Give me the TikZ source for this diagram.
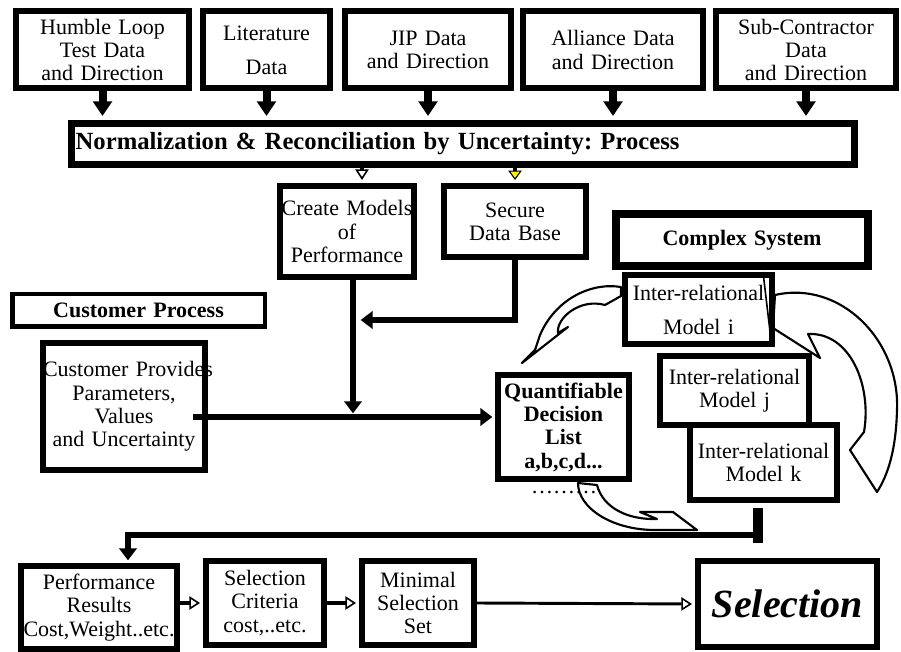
\documentclass[tikz,border=0pt]{standalone}
\usepackage{fontspec}
\setmainfont{Liberation Serif}
\usetikzlibrary{arrows.meta}

\newcommand\diagfont{\fontsize{16.5}{17.5}\selectfont\frenchspacing}

\begin{document}
\begin{tikzpicture}
[x = 0.75pt, y = -0.75pt, line join = miter,
every node/.style = {font = \diagfont},
box/.style = {draw, line width = 4.5pt, fill = white, inner sep = 0pt, align = center},
heavy box/.style = {box, line width = 6pt},
head/.style = {line width = 4.5pt, shorten >= 2pt, -{Triangle[width = 13pt, length = 9pt]}},
feed/.style = {line width = 6pt, shorten >= 3pt, -{Triangle[width = 14pt, length = 11pt]}},
open head/.style = {line width = 3.5pt, shorten >= 2.25pt, -{Triangle[open, line width = 1.2pt, width = 10pt, length = 8pt]}},
curvy/.style = {draw, line width = 1.6pt, fill = white, line join = round}]

\colorlet{tipcolor}{yellow}
\useasboundingbox (0, 0) rectangle (901, 652);

% curved block arrows round the complex system
\draw[curvy] (621, 287) .. controls (590, 282) and (555, 300) .. (540, 335) -- (535, 350) -- (522, 363) -- (568, 327) -- (558, 333) .. controls (556, 318) and (580, 298) .. (605, 305) -- (621, 296) -- cycle;
\draw[curvy] (578, 483) .. controls (578, 508) and (612, 530) .. (655, 530) -- (697, 530) -- (673, 512) -- (640, 512) -- (657, 519) .. controls (628, 520) and (603, 508) .. (597, 485) -- cycle;
\draw[curvy] (775, 295) .. controls (840, 280) and (900, 340) .. (897, 410) .. controls (896, 450) and (888, 475) .. (877, 492) -- (850, 450) -- (864, 432) .. controls (872, 385) and (850, 332) .. (808, 334) -- (820, 358) -- (773, 328) -- cycle;

% data sources
\foreach \name/\cx/\boxw/\txt in {hum/102.5/129.75pt/{Humble Loop\\Test Data\\and Direction}, lit/266.5/95.25pt/{Literature\\[8pt]Data}, jip/428/124.5pt/{JIP Data\\and Direction}, all/613/135pt/{Alliance Data\\and Direction}, sub/806/135pt/{Sub-Contractor\\Data\\and Direction}}
  \node[box, text width = \boxw, minimum height = 57.75pt] (\name) at (\cx, 50) {\txt};

\node[box, line width = 5.25pt, text width = 581pt, inner xsep = 3pt, minimum height = 30.75pt, align = left, font = \fontsize{18.5}{20}\selectfont\bfseries\frenchspacing] (norm) at (463, 144) {Normalization \& Reconciliation by Uncertainty: Process};

\foreach \name in {hum, lit, jip, all, sub}
  \draw[feed] (\name.south) -- (\name.south |- norm.north);

\node[box, text width = 100.5pt, minimum height = 68.25pt] (cre) at (347, 231.5) {\mbox{Create Models}\\of\\Performance};
\node[box, text width = 106.5pt, minimum height = 53.25pt] (sec) at (515, 221.5) {Secure\\Data Base};

\draw[open head, line width = 2.5pt] ([xshift = 11.25pt]cre.north |- norm.south) -- ([xshift = 11.25pt]cre.north);
\draw[line width = 2.5pt, shorten >= 2.25pt, -{Triangle[fill = tipcolor, line width = 0.8pt, width = 10pt, length = 7pt]}] (sec.north |- norm.south) -- (sec.north);

% customer side
\node[box, line width = 3.4pt, text width = 189.4pt, minimum height = 24.4pt, font = \diagfont\bfseries] (cpr) at (138.5, 310.5) {Customer Process};
\node[box, text width = 121.5pt, minimum height = 95.25pt] (cpv) at (124, 406.5) {\mbox{Customer Provides}\\Parameters,\\Values\\and Uncertainty};

% complex system
\node[heavy box, text width = 189pt, minimum height = 39pt, font = \diagfont\bfseries] (cs) at (742, 240) {Complex System};
\node[box, text width = 110.25pt, minimum height = 51.75pt] (mi) at (698.5, 309.5) {\mbox{Inter-relational}\\[8pt]Model i};
\node[box, text width = 111.75pt, minimum height = 51.75pt] (mj) at (734.5, 390.5) {\mbox{Inter-relational}\\Model j};
\node[box, text width = 110.25pt, minimum height = 56.25pt] (mk) at (763.5, 462.5) {\mbox{Inter-relational}\\Model k};
\draw[line width = 1.2pt] (763, 272) -- (771, 340);

\node[box, text width = 98.25pt, minimum height = 78pt, font = \diagfont\bfseries] (qdl) at (563.5, 427) {\mbox{Quantifiable}\\Decision\\List\\a,b,c,d...};
\node (dots) at (564, 493) {\ldots\ldots\ldots};

\coordinate (cl) at (353, 416);
\coordinate (sl) at (358, 320);
\coordinate (cin) at (193, 417);
\draw[head] ([xshift = 4.5pt]cre.south) -- (cl);
\draw[head] (sec.south) |- (sl);
\draw[head] (cin) -- (cin -| qdl.west);

% selection chain
\node[box, text width = 117pt, minimum height = 62.25pt] (perf) at (99, 607.5) {Performance\\Results\\\mbox{Cost,Weight..etc.}};
\node[box, text width = 88.5pt, minimum height = 63pt] (crit) at (265, 603) {Selection\\Criteria\\cost,..etc.};
\node[box, text width = 84pt, minimum height = 63pt] (mss) at (418, 603) {Minimal\\Selection\\Set};
\node[box, text width = 134.25pt, minimum height = 64.5pt, font = \fontsize{30}{30}\selectfont\bfseries\itshape] (sel) at (787.5, 604) {Selection};

\draw[open head] (perf.east |- crit.west) -- (crit.west);
\draw[open head] (crit.east) -- (mss.west);
\draw[open head, line width = 2.2pt] (mss.east) -- (sel.west);

% feedback from the models
\coordinate (bar top) at (758, 508);
\coordinate (bar bottom) at (758, 543);
\coordinate (fb) at (758, 535);
\draw[line width = 7.5pt] (bar top) -- (bar bottom);
\draw[head] (fb) -| ([xshift = 21.75pt]perf.north);
\end{tikzpicture}
\end{document}
